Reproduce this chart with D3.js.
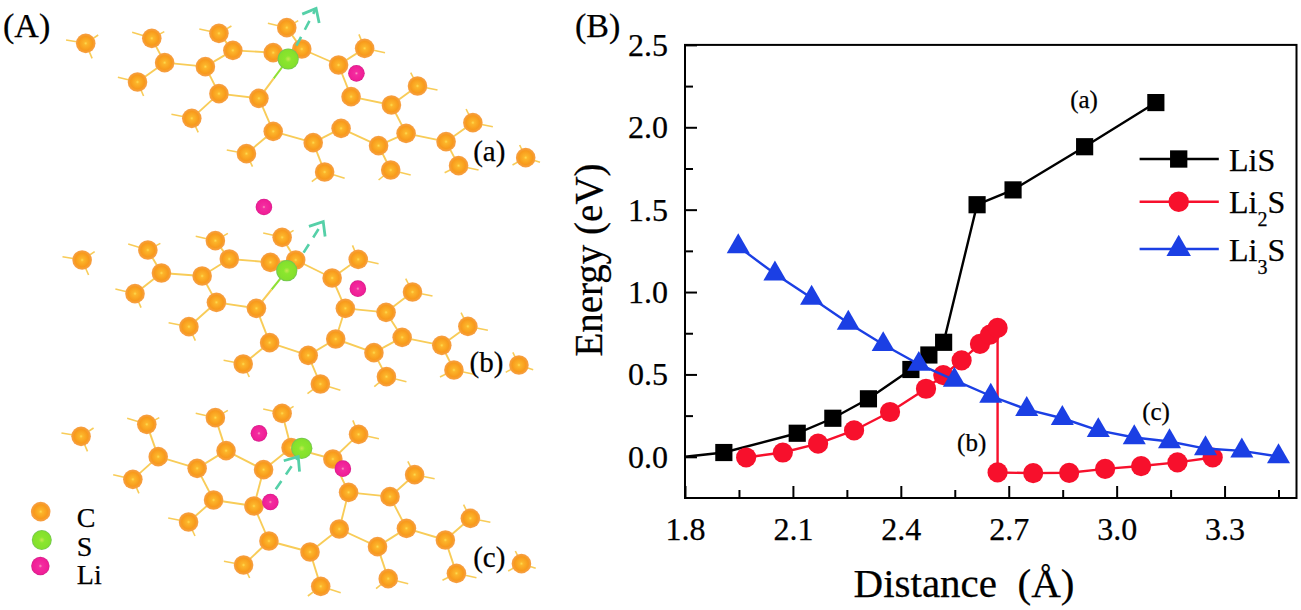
<!DOCTYPE html>
<html>
<head>
<meta charset="utf-8">
<script src="https://cdnjs.cloudflare.com/ajax/libs/d3/7.8.5/d3.min.js"></script>
<style>
  html, body { margin: 0; padding: 0; background: #fff; }
  svg { display: block; }
  text { font-family: "Liberation Serif", serif; fill: #000; stroke: #000; stroke-width: 0.25px; }
  .domain { display: none; }
</style>
</head>
<body>
<div id="chart"></div>
<script>
// Panel B values
const lisX = [1.8, 1.908, 2.112, 2.211, 2.31, 2.428, 2.478, 2.519, 2.612, 2.712, 2.911, 3.109];
const lisY = [0.0, 0.026, 0.143, 0.234, 0.352, 0.53, 0.618, 0.695, 1.53, 1.62, 1.882, 2.15];
const li2sX = [1.97, 2.072, 2.17, 2.27, 2.37, 2.47, 2.518, 2.569, 2.62, 2.648, 2.669, 2.669, 2.768, 2.868, 2.968, 3.068, 3.169, 3.267];
const li2sY = [-0.004, 0.026, 0.08, 0.16, 0.272, 0.413, 0.496, 0.585, 0.685, 0.742, 0.782, -0.095, -0.099, -0.097, -0.073, -0.056, -0.034, -0.004];
const li3sX = [1.948, 2.05, 2.152, 2.254, 2.351, 2.45, 2.549, 2.65, 2.75, 2.849, 2.949, 3.049, 3.147, 3.247, 3.348, 3.45];
const li3sY = [1.276, 1.111, 0.964, 0.812, 0.682, 0.562, 0.466, 0.369, 0.288, 0.234, 0.16, 0.117, 0.093, 0.05, 0.036, 0.002];
const xMajor = [1.8, 2.1, 2.4, 2.7, 3.0, 3.3];
const xMinor = [1.95, 2.25, 2.55, 2.85, 3.15, 3.45];
const yMajor = [0, 0.5, 1, 1.5, 2, 2.5];
const yMinor = [0.25, 0.75, 1.25, 1.75, 2.25];

// Panel A atoms, in units of the zoomed crop of each structure
const atomsA = [[240,130],[425,115],[613,100],[803,83],[461,188],[575,200],[652,151],[765,158],[845,147],[948,195],[1021,145],[385,246],[613,281],[725,295],[983,290],[1096,315],[1169,258],[537,355],[765,394],[877,428],[955,385],[1060,437],[1137,400],[1249,425],[1324,368],[690,461],[909,516],[1094,510],[1284,497],[1472,473]];
const atomsB = [[230,210],[414,180],[603,152],[790,142],[452,249],[566,258],[642,207],[757,217],[828,210],[930,264],[1003,208],[378,311],[606,337],[718,355],[967,355],[1081,367],[1155,306],[529,410],[755,458],[863,496],[940,447],[1047,488],[1126,442],[1237,466],[1310,409],[681,522],[897,582],[1082,560],[1271,540],[1453,525]];
const atomsC = [[227,139],[411,103],[603,83],[790,70],[443,200],[552,235],[633,182],[738,239],[815,173],[932,207],[1004,133],[372,268],[598,330],[711,348],[976,307],[1092,320],[1161,254],[528,396],[753,453],[868,486],[950,417],[1057,470],[1138,415],[1247,450],[1317,385],[682,525],[898,589],[1087,566],[1278,550],[1460,521]];
const bondsA = [[1,4],[2,6],[3,8],[4,5],[4,11],[5,6],[5,12],[6,7],[7,8],[8,9],[9,10],[9,14],[12,13],[12,17],[13,18],[14,15],[15,16],[15,22],[18,19],[18,25],[19,20],[19,26],[20,21],[21,22],[21,27],[22,23],[23,24],[23,28]];
const bondsB = bondsA.concat([[14,20]]);
const bondsC = bondsA.concat([[14,20],[7,13]]);
const stubs = {0:[[-55,-10],[35,-25],[18,45]],1:[[-55,-18],[35,-20]],2:[[-55,-13],[35,-22]],3:[[-53,-13],[32,-21]],10:[[-16,-42],[57,13]],11:[[-55,-14],[17,42]],16:[[-19,-40],[56,12]],17:[[-57,-12],[18,42]],24:[[-19,-41],[56,12]],25:[[-55,-11],[17,39]],26:[[-36,29],[56,19]],27:[[-34,30],[56,15]],28:[[-39,21],[56,13]],29:[[-17,-38],[-37,22],[40,14]]};
const sulfurA = [807,177], sulfurB = [803,242], sulfurC = [845,175];
const lithiumA = [[998,220]];
const lithiumB = [[1002,296],[739,51]];
const lithiumC = [[725,130],[757,336],[960,236]];
const arrowA = [[830,137],[885,25]];
const arrowB = [[850,188],[905,95]];
const arrowC = [[772,298],[835,200]];
const keyAtoms = [[114,365,"atom-c"],[117,450,"atom-s"],[113,528,"atom-li"]];
const keyNames = ["C", "S", "Li"];
const keyBase = [412, 497, 582];

const width = 1301, height = 610;
const svg = d3.select("#chart").append("svg").attr("width", width).attr("height", height);

function addGradient(defs, id, stops) {
  const g = defs.append("radialGradient").attr("id", id).attr("cx", "50%").attr("cy", "50%").attr("r", "50%");
  stops.forEach(s => g.append("stop").attr("offset", s[0]).attr("stop-color", s[1]));
}

const defs = svg.append("defs");
addGradient(defs, "atom-c", [["0%", "#ffdc50"], ["18%", "#fcb52a"], ["70%", "#f89a1c"], ["100%", "#f6a04a"]]);
addGradient(defs, "atom-s", [["0%", "#c8e850"], ["30%", "#8ae62e"], ["85%", "#84e02c"], ["100%", "#6fc05a"]]);
addGradient(defs, "atom-li", [["0%", "#f9a0c0"], ["20%", "#f32ca0"], ["85%", "#f01e96"], ["100%", "#d0208a"]]);

function writeStructure(cfg) {
  const px = d3.scaleLinear().domain([0, 1568]).range([0, 560]);
  const py = d3.scaleLinear().domain([0, 3]).range([cfg.top, cfg.top + 1]);
  const g = svg.append("g").attr("class", "structure");

  g.append("g").attr("stroke", "#f8cc58").attr("stroke-width", 1.9)
    .selectAll("line").data(cfg.bonds).join("line")
      .attr("x1", d => px(cfg.atoms[d[0]][0])).attr("y1", d => py(cfg.atoms[d[0]][1]))
      .attr("x2", d => px(cfg.atoms[d[1]][0])).attr("y2", d => py(cfg.atoms[d[1]][1]));

  const stubList = [];
  Object.keys(stubs).forEach(k => stubs[k].forEach(s => stubList.push([+k, s])));
  g.append("g").attr("stroke", "#f8cc58").attr("stroke-width", 1.6)
    .selectAll("line").data(stubList).join("line")
      .attr("x1", d => px(cfg.atoms[d[0]][0])).attr("y1", d => py(cfg.atoms[d[0]][1]))
      .attr("x2", d => px(cfg.atoms[d[0]][0] + d[1][0])).attr("y2", d => py(cfg.atoms[d[0]][1] + d[1][1]));

  // S-C bond, half carbon colour half sulfur colour
  if (cfg.sulfurBond) {
    const a = cfg.atoms[13], s = cfg.sulfur;
    g.append("line").attr("stroke", "#8fe034").attr("stroke-width", 2)
      .attr("x1", px((a[0] + s[0]) / 2)).attr("y1", py((a[1] + s[1]) / 2))
      .attr("x2", px(s[0])).attr("y2", py(s[1]));
    g.append("line").attr("stroke", "#f8cc58").attr("stroke-width", 2)
      .attr("x1", px(a[0])).attr("y1", py(a[1]))
      .attr("x2", px((a[0] + s[0]) / 2)).attr("y2", py((a[1] + s[1]) / 2));
  }

  g.append("g").selectAll("circle").data(cfg.atoms).join("circle")
    .attr("cx", d => px(d[0])).attr("cy", d => py(d[1])).attr("r", 9.8).attr("fill", "url(#atom-c)");

  g.append("circle").attr("cx", px(cfg.sulfur[0])).attr("cy", py(cfg.sulfur[1])).attr("r", 10.6).attr("fill", "url(#atom-s)");

  g.append("g").selectAll("circle").data(cfg.lithium).join("circle")
    .attr("cx", d => px(d[0])).attr("cy", d => py(d[1])).attr("r", 8.3).attr("fill", "url(#atom-li)");

  writeArrow(g, cfg.arrow, px, py);

  g.append("text").text(cfg.label).attr("x", px(cfg.labelAt[0])).attr("y", py(cfg.labelAt[1]))
    .attr("text-anchor", "middle").attr("font-size", 29);
}

function writeArrow(g, arrow, px, py) {
  const x1 = px(arrow[0][0]), y1 = py(arrow[0][1]), x2 = px(arrow[1][0]), y2 = py(arrow[1][1]);
  const ang = Math.atan2(y2 - y1, x2 - x1);
  const barb = 15;
  const tip = d3.path();
  tip.moveTo(x2 + barb * Math.cos(ang + 2.45), y2 + barb * Math.sin(ang + 2.45));
  tip.lineTo(x2, y2);
  tip.lineTo(x2 + barb * Math.cos(ang - 2.45), y2 + barb * Math.sin(ang - 2.45));
  const color = "#55d0a8";
  g.append("line").attr("x1", x1).attr("y1", y1).attr("x2", x2).attr("y2", y2)
    .attr("stroke", color).attr("stroke-width", 2.6).attr("stroke-dasharray", "10,8");
  g.append("path").attr("d", tip.toString()).attr("fill", "none")
    .attr("stroke", color).attr("stroke-width", 2.8);
}

function writeKey() {
  const px = d3.scaleLinear().domain([0, 1568]).range([0, 560]);
  const py = d3.scaleLinear().domain([0, 3]).range([390, 391]);
  svg.append("g").selectAll("circle").data(keyAtoms).join("circle")
    .attr("cx", d => px(d[0])).attr("cy", d => py(d[1]))
    .attr("r", (d, i) => [9.8, 10, 9.2][i])
    .attr("fill", d => `url(#${d[2]})`);
  svg.append("g").selectAll("text").data(keyNames).join("text")
    .text(d => d)
    .attr("x", px(215)).attr("y", (d, i) => py(keyBase[i]))
    .attr("font-size", 28);
}

function writeAxes() {
  const x = d3.scaleLinear().domain([1.8, 3.5]).range([685, 1296.5]);
  const y = d3.scaleLinear().domain([-0.25, 2.5]).range([498, 44.9]);

  const fmt = d3.format(".1f");
  const gx = svg.append("g").attr("transform", `translate(0,${y(-0.25)})`)
    .call(d3.axisBottom(x).tickValues(xMajor).tickSizeInner(-12).tickSizeOuter(0).tickPadding(19).tickFormat(fmt));
  svg.append("g").attr("transform", `translate(0,${y(-0.25)})`)
    .call(d3.axisBottom(x).tickValues(xMinor).tickSizeInner(-8).tickSizeOuter(0).tickFormat(""));
  const gy = svg.append("g").attr("transform", `translate(${x(1.8)},0)`)
    .call(d3.axisLeft(y).tickValues(yMajor).tickSizeInner(-12).tickSizeOuter(0).tickPadding(17).tickFormat(fmt));
  svg.append("g").attr("transform", `translate(${x(1.8)},0)`)
    .call(d3.axisLeft(y).tickValues(yMinor).tickSizeInner(-8).tickSizeOuter(0).tickFormat(""));

  svg.selectAll(".tick line").attr("stroke", "#000").attr("stroke-width", 2);
  gx.selectAll("text").attr("font-size", 32).attr("fill", "#000").attr("dy", "0.71em");
  gy.selectAll("text").attr("font-size", 32).attr("fill", "#000").attr("dy", "0.33em");

  svg.append("rect").attr("x", x(1.8)).attr("y", y(2.5))
    .attr("width", x(3.5) - x(1.8)).attr("height", y(-0.25) - y(2.5))
    .attr("fill", "none").attr("stroke", "#000").attr("stroke-width", 2);

  svg.append("text").text("Distance  (Å)").style("white-space", "pre")
    .attr("x", 964).attr("y", 597).attr("text-anchor", "middle").attr("font-size", 41);
  svg.append("text").text("Energy (eV)")
    .attr("transform", "translate(602,260) rotate(-90)").attr("text-anchor", "middle").attr("font-size", 39);

  return { x, y };
}

function writeSeries(xs, ys, color, lineWidth, symbolType, size, skip, x, y) {
  const pts = xs.map((v, i) => [v, ys[i]]);
  const line = d3.line().x(d => x(d[0])).y(d => y(d[1]));
  const g = svg.append("g").attr("class", "series");
  g.append("path").attr("d", line(pts)).attr("fill", "none").attr("stroke", color).attr("stroke-width", lineWidth);
  g.selectAll("path.mark").data(pts.slice(skip)).join("path")
    .attr("class", "mark")
    .attr("transform", d => `translate(${x(d[0])},${y(d[1])})`)
    .attr("d", d3.symbol().type(symbolType).size(size)())
    .attr("fill", color);
}

function writeLegend() {
  const rows = [
    { color: "#000000", type: d3.symbolSquare, size: 300, y: 159, name: "Li", sub: "", tail: "S" },
    { color: "#f7102c", type: d3.symbolCircle, size: 330, y: 201.7, name: "Li", sub: "2", tail: "S" },
    { color: "#1b3fe4", type: d3.symbolTriangle, size: 260, y: 249, name: "Li", sub: "3", tail: "S" },
  ];
  const g = svg.append("g").attr("class", "legend-block");
  rows.forEach(r => {
    g.append("line").attr("x1", 1139.6).attr("x2", 1218.8).attr("y1", r.y).attr("y2", r.y)
      .attr("stroke", r.color).attr("stroke-width", 2.6);
    g.append("path").attr("transform", `translate(1178.7,${r.y})`)
      .attr("d", d3.symbol().type(r.type).size(r.size)()).attr("fill", r.color);
    const t = g.append("text").attr("x", 1229).attr("y", r.y + 11.7).attr("font-size", 32);
    t.append("tspan").text(r.name);
    if (r.sub) {
      t.append("tspan").text(r.sub).attr("font-size", 20).attr("dy", 13);
      t.append("tspan").text(r.tail).attr("dy", -13);
    } else {
      t.append("tspan").text(r.tail);
    }
  });
}

function writeLabels() {
  const labels = [
    ["(A)", 3, 37, "start", 34],
    ["(B)", 575, 37, "start", 34],
    ["(a)", 1084, 108, "middle", 25],
    ["(b)", 971.7, 451, "middle", 25],
    ["(c)", 1156, 420, "middle", 25],
  ];
  svg.append("g").selectAll("text").data(labels).join("text")
    .text(d => d[0]).attr("x", d => d[1]).attr("y", d => d[2])
    .attr("text-anchor", d => d[3]).attr("font-size", d => d[4]);
}

writeStructure({ atoms: atomsA, bonds: bondsA, sulfur: sulfurA, lithium: lithiumA, arrow: arrowA, top: 0, sulfurBond: true, label: "(a)", labelAt: [1370, 482] });
writeStructure({ atoms: atomsB, bonds: bondsB, sulfur: sulfurB, lithium: lithiumB, arrow: arrowB, top: 190, sulfurBond: true, label: "(b)", labelAt: [1362, 545] });
writeStructure({ atoms: atomsC, bonds: bondsC, sulfur: sulfurC, lithium: lithiumC, arrow: arrowC, top: 390, sulfurBond: false, label: "(c)", labelAt: [1370, 532] });
writeKey();

const { x, y } = writeAxes();
writeSeries(lisX, lisY, "#000000", 2.4, d3.symbolSquare, 295, 1, x, y);
writeSeries(li2sX, li2sY, "#f7102c", 2.4, d3.symbolCircle, 320, 0, x, y);
writeSeries(li3sX, li3sY, "#1b3fe4", 2.4, d3.symbolTriangle, 230, 0, x, y);
writeLegend();
writeLabels();
</script>
</body>
</html>
